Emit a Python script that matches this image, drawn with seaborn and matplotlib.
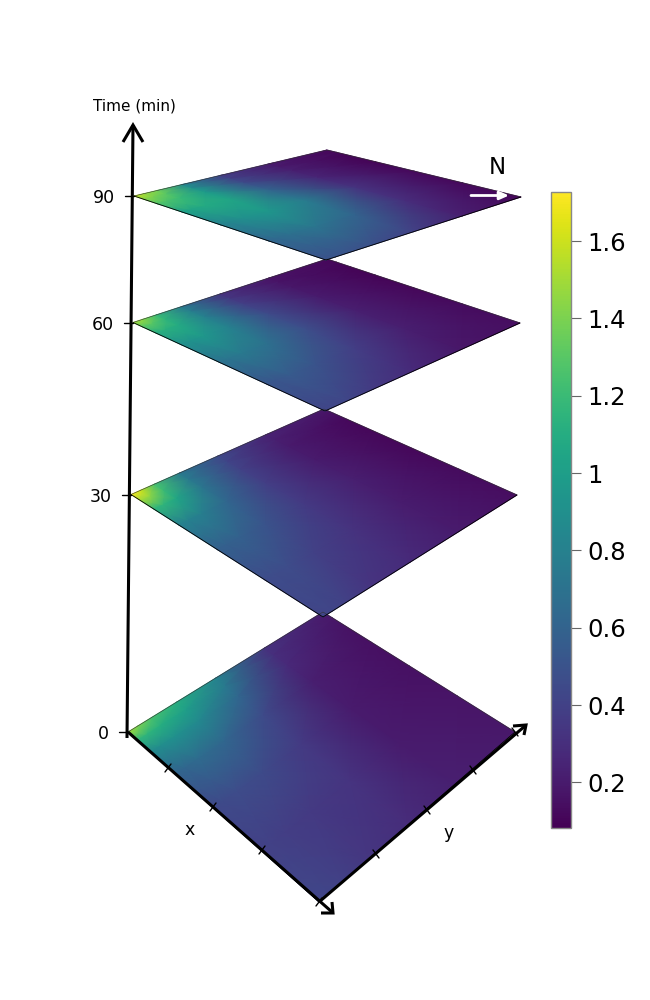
import numpy as np
import matplotlib
matplotlib.use("Agg")
import matplotlib.pyplot as plt
import seaborn as sns

# ---- data ----
TIMES = [0, 30, 60, 90]
U_KNOTS = [0, .05, .12, .25, .45, .7, 1]   # along the x edge
V_KNOTS = [0, .05, .12, .25, .45, .7, 1]   # along the y edge
SURFACE_0 = [
    [1.50, 1.15, .85, .60, .44, .40, .42],
    [1.40, 1.15, .88, .62, .45, .40, .42],
    [1.25, 1.10, .90, .65, .46, .38, .40],
    [1.10, 1.00, .85, .62, .45, .36, .34],
    [.82, .75, .62, .45, .36, .33, .29],
    [.32, .30, .27, .22, .20, .20, .22],
    [.20, .18, .16, .15, .15, .17, .19],
]
SURFACE_30 = [
    [1.72, 1.50, 1.15, .80, .58, .46, .42],
    [1.60, 1.45, 1.15, .80, .58, .46, .42],
    [1.25, 1.20, 1.05, .78, .58, .46, .40],
    [.75, .75, .72, .62, .50, .40, .33],
    [.45, .42, .40, .38, .36, .32, .28],
    [.24, .22, .20, .20, .22, .21, .20],
    [.18, .15, .12, .11, .11, .13, .14],
]
SURFACE_60 = [
    [1.50, 1.30, 1.10, .90, .70, .52, .42],
    [1.45, 1.30, 1.12, .92, .72, .52, .42],
    [1.20, 1.15, 1.08, .95, .75, .55, .42],
    [.75, .78, .80, .80, .68, .50, .36],
    [.32, .34, .38, .45, .47, .38, .28],
    [.17, .17, .18, .20, .22, .22, .18],
    [.12, .11, .10, .10, .11, .13, .14],
]
SURFACE_90 = [
    [1.58, 1.45, 1.28, 1.00, .80, .62, .50],
    [1.50, 1.40, 1.26, 1.05, .84, .65, .50],
    [1.38, 1.30, 1.20, 1.08, .90, .68, .50],
    [.85, .90, .98, 1.05, .95, .72, .48],
    [.38, .40, .45, .60, .76, .60, .40],
    [.20, .20, .22, .25, .32, .30, .22],
    [.12, .11, .10, .10, .12, .12, .11],
]
CBAR_TICKS = [0.2, 0.4, 0.6, 0.8, 1.0, 1.2, 1.4, 1.6]
CBAR_LABELS = ["0.2", "0.4", "0.6", "0.8", "1", "1.2", "1.4", "1.6"]
VMIN, VMAX = 0.082, 1.727

# ---- layout (pixels) ----
CORNERS = {  # left, bottom, top, right
    0: ((128, 732), (319, 902), (323, 612), (515, 732)),
    30: ((131, 494.5), (323, 617), (324, 409), (517, 495)),
    60: ((133, 322.5), (325, 411), (327, 259), (520, 323)),
    90: ((134, 196), (326, 260), (327, 150), (521, 197)),
}
SURFACES = {0: SURFACE_0, 30: SURFACE_30, 60: SURFACE_60, 90: SURFACE_90}

sns.set_theme(style="white")
plt.rcParams["font.family"] = ["DejaVu Sans"]
cmap = sns.color_palette("viridis", as_cmap=True)

fig = plt.figure(figsize=(6.5, 10), dpi=100, facecolor="white")
ax = fig.add_axes([0, 0, 1, 1])
ax.set_xlim(0, 650)
ax.set_ylim(1000, 0)
ax.axis("off")

U, V = np.meshgrid(U_KNOTS, V_KNOTS)
mesh = None
for t in TIMES:
    L, B, T, R = [np.array(c, float) for c in CORNERS[t]]
    X = (1-U)*(1-V)*L[0] + U*(1-V)*B[0] + (1-U)*V*T[0] + U*V*R[0]
    Y = (1-U)*(1-V)*L[1] + U*(1-V)*B[1] + (1-U)*V*T[1] + U*V*R[1]
    mesh = ax.pcolormesh(X, Y, np.array(SURFACES[t]), shading="gouraud",
                         cmap=cmap, vmin=VMIN, vmax=VMAX, zorder=2)
    ax.plot(*zip(L, T, R), color="#333333", lw=0.4, zorder=3)
    ax.plot(*zip(L, B, R), color="black", lw=0.6, zorder=3)
    ax.plot([L[0]-9, L[0]], [L[1], L[1]], color="black", lw=1, zorder=4)
    ax.text(L[0]-19, L[1], str(t), ha="right", va="center_baseline", fontsize=12.5, color="black")

# axes with open arrow heads
axis_kw = dict(color="black", lw=2.2, solid_capstyle="butt", solid_joinstyle="miter", zorder=5)
ax.plot([127, 133], [738, 125], **axis_kw)
ax.plot([123, 133, 143], [142, 125, 142], **axis_kw)
ax.plot([128, 332], [732, 912], **axis_kw)
ax.plot([321, 333, 332], [913, 913, 902], **axis_kw)
ax.plot([319, 525], [902, 726], **axis_kw)
ax.plot([513, 526, 524], [726, 725, 735], **axis_kw)
tick_kw = dict(color="black", lw=1, zorder=5)
for px, py in [(168, 768), (213, 807), (262, 850), (319, 902)]:
    ax.plot([px-3, px+3], [py+4, py-4], **tick_kw)
for px, py in [(376, 854), (427, 810), (473, 770), (515, 732)]:
    ax.plot([px-3, px+3], [py-4, py+4], **tick_kw)

ax.text(134.5, 106, "Time (min)", ha="center", va="center", fontsize=11, color="black")
ax.text(190, 830, "x", ha="center", va="center", fontsize=12.5, color="black")
ax.text(449, 833, "y", ha="center", va="center", fontsize=12.5, color="black")
ax.text(497, 167, "N", ha="center", va="center", fontsize=16.5, color="black")
ax.annotate("", xy=(509, 195.5), xytext=(471, 195.5), zorder=6,
            arrowprops=dict(arrowstyle="-|>,head_length=0.45,head_width=0.2", color="white", lw=2,
                            shrinkA=0, shrinkB=0))

# colour bar
cax = fig.add_axes([551/650, 1-828/1000, 20/650, 636/1000])
cb = fig.colorbar(mesh, cax=cax, ticks=CBAR_TICKS)
cb.set_ticklabels(CBAR_LABELS)
cb.ax.tick_params(length=7.5, width=0.8, color="#666666", labelsize=17.5, labelcolor="black",
                  pad=4.5, right=True, left=False)
cb.outline.set_edgecolor("#888888")
cb.outline.set_linewidth(1)

fig.savefig("out.png", dpi=100)
